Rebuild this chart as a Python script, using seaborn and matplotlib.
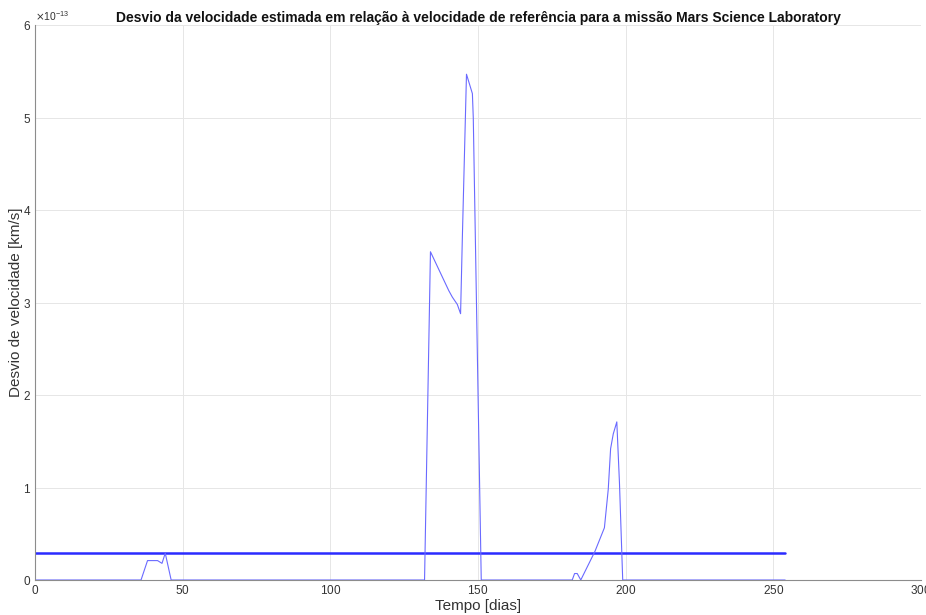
import matplotlib
matplotlib.use("Agg")
import matplotlib.pyplot as plt
import seaborn as sns
import pandas as pd
import numpy as np
from matplotlib.ticker import ScalarFormatter

# Desvio da velocidade (em unidades de 1e-13 km/s) ao longo do tempo de missão
tempo_dias = [0, 35.9, 38.1, 41.5, 43.0, 44.1, 46.1,
              131.9, 133.9, 140.1, 141.3, 143.0, 144.1, 144.7, 146.1, 148.1, 148.4, 151.1,
              181.9, 182.7, 183.6, 184.8, 189.6, 192.8, 194.1, 194.9, 195.8, 197.0, 197.9, 199.0,
              254.0]
desvio_e13 = [0, 0, 0.21, 0.21, 0.18, 0.29, 0,
              0, 3.55, 3.13, 3.06, 2.98, 2.88, 3.70, 5.47, 5.26, 5.00, 0,
              0, 0.07, 0.07, 0, 0.31, 0.565, 0.98, 1.42, 1.58, 1.71, 1.05, 0,
              0]

# Nível de referência constante
limiar_e13 = 0.29
tempo_limiar = [0, 254.0]

x_ticks = [0, 50, 100, 150, 200, 250, 300]
y_ticks = [0, 1, 2, 3, 4, 5, 6]

escala = 1e-13
df = pd.DataFrame({"t": tempo_dias, "dv": np.array(desvio_e13) * escala})
df_lim = pd.DataFrame({"t": tempo_limiar, "dv": [limiar_e13 * escala] * 2})

sns.set_style("white")
plt.rcParams["font.family"] = ["Liberation Sans", "DejaVu Sans"]
plt.rcParams["axes.formatter.use_mathtext"] = True

fig = plt.figure(figsize=(9.26, 6.15), dpi=100)
ax = fig.add_axes([0.0378, 0.0569, 0.9568, 0.9021])

sns.lineplot(data=df_lim, x="t", y="dv", ax=ax, color="#2b2bff", linewidth=1.8,
             estimator=None, sort=False)
sns.lineplot(data=df, x="t", y="dv", ax=ax, color="#6a6aff", linewidth=0.8,
             estimator=None, sort=False)

ax.set_xlim(0, 300)
ax.set_ylim(0, 6 * escala)
ax.set_xticks(x_ticks)
ax.set_yticks([v * escala for v in y_ticks])

fmt = ScalarFormatter(useMathText=True)
fmt.set_powerlimits((0, 0))
ax.yaxis.set_major_formatter(fmt)
off = ax.yaxis.get_offset_text()
off.set_fontsize(7.5)
off.set_color("#555555")

ax.grid(True, color="#e6e6e6", linewidth=0.7)
ax.set_axisbelow(True)
for s in ["top", "right"]:
    ax.spines[s].set_visible(False)
for s in ["left", "bottom"]:
    ax.spines[s].set_color("#8c8c8c")
    ax.spines[s].set_linewidth(0.8)

ax.tick_params(axis="both", direction="in", length=4, width=0.7, color="#8c8c8c",
               labelsize=8.5, labelcolor="#333333", pad=3)

ax.set_xlabel("Tempo [dias]", fontsize=11, color="#333333", labelpad=1)
ax.set_ylabel("Desvio de velocidade [km/s]", fontsize=11, color="#333333", labelpad=0)
ax.set_title("Desvio da velocidade estimada em relação à velocidade de referência "
             "para a missão Mars Science Laboratory",
             fontsize=10, fontweight="bold", color="#111111", pad=2)

fig.savefig("out.png", dpi=100)
